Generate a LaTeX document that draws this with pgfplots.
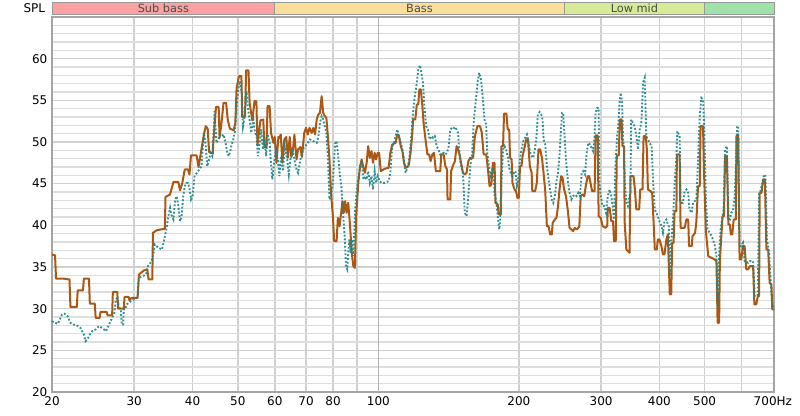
\documentclass[border=0pt]{standalone}
\usepackage{fontspec}
\setmainfont{DejaVu Sans}
\usepackage{pgfplots}
\pgfplotsset{compat=1.18}
\definecolor{brownline}{RGB}{172,88,18}
\definecolor{tealline}{RGB}{26,134,134}
\definecolor{subbass}{RGB}{250,162,162}
\definecolor{bass}{RGB}{250,222,156}
\definecolor{lowmid}{RGB}{214,234,152}
\definecolor{midc}{RGB}{158,226,168}
\definecolor{gridc}{RGB}{222,222,222}
\definecolor{vgrid}{RGB}{208,208,208}
\definecolor{framec}{RGB}{165,165,165}
\begin{document}
\begin{tikzpicture}
\begin{axis}[
  scale only axis, width=541.5pt, height=281.25pt,
  xmode=log, log basis x=10,
  xmin=20, xmax=704, ymin=20, ymax=65,
  xtick={20,30,40,50,60,70,80,90,100,200,300,400,500,600},
  xticklabels={20,30,40,50,60,70,80,,100,200,300,400,500,},
  extra x ticks={700}, extra x tick labels={700Hz},
  extra x tick style={grid=none},
  minor x tick num=0,
  ytick={20,25,...,60},
  minor ytick={21,22,...,65},
  xmajorgrids=true, ymajorgrids=true, yminorgrids=true,
  major grid style={vgrid, line width=1.2pt},
  minor grid style={gridc, line width=1.1pt},
  major tick length=0pt, minor tick length=0pt,
  axis line style={framec, line width=1.5pt},
  tick label style={font=\fontsize{9}{10}\selectfont},
  /pgf/number format/assume math mode=true,
  clip=false,
]
\path ([xshift=-39pt,yshift=-18pt]rel axis cs:0,0) rectangle ([xshift=19.5pt,yshift=12.75pt]rel axis cs:1,1);
\draw[black!30, line width=1.2pt] (axis cs:100,20) -- (axis cs:100,65);
% frequency bands
\fill[subbass] (axis cs:20,65.33) rectangle (axis cs:60,66.74);
\fill[bass] (axis cs:60,65.33) rectangle (axis cs:250,66.74);
\fill[lowmid] (axis cs:250,65.33) rectangle (axis cs:500,66.74);
\fill[midc] (axis cs:500,65.33) rectangle (axis cs:704,66.74);
\draw[black!40, line width=0.5pt] (axis cs:20,65.33) rectangle (axis cs:704,66.74);
\draw[black!40, line width=0.5pt] (axis cs:60,65.33) -- (axis cs:60,66.74);
\draw[black!40, line width=0.5pt] (axis cs:250,65.33) -- (axis cs:250,66.74);
\draw[black!40, line width=0.5pt] (axis cs:500,65.33) -- (axis cs:500,66.74);
\node[font=\fontsize{8.5}{10}\selectfont, text=black!70, inner sep=0pt] at (axis cs:34.64,66.03) {Sub bass};
\node[font=\fontsize{8.5}{10}\selectfont, text=black!70, inner sep=0pt] at (axis cs:122.5,66.03) {Bass};
\node[font=\fontsize{8.5}{10}\selectfont, text=black!70, inner sep=0pt] at (axis cs:353.6,66.03) {Low mid};
\node[font=\fontsize{9}{10}\selectfont, anchor=east, inner sep=0pt] at ([xshift=-5pt]axis cs:20,66.03) {SPL};

\addplot[brownline, line width=1.5pt, line join=round, mark=none] coordinates {
(20,36.5)(20.3,36.4)(20.4,33.6)(21.2,33.6)(21.8,33.5)(21.9,30.2)(22.6,30.2)(22.7,32.2)(23.3,32.2)(23.4,33.6)(24.0,33.6)(24.1,30.6)(24.7,30.6)(24.8,28.9)(25.3,28.9)(25.4,29.6)(26.2,29.6)(26.3,29.2)(26.9,29.2)(27.0,32.0)(27.6,32.0)(27.7,30.0)(28.5,30.0)(28.6,31.4)(29.2,31.4)(29.3,31.0)(29.6,31.3)(30.5,31.3)(30.7,34.1)(31.5,34.6)(32.0,34.7)(32.2,33.5)(32.8,33.5)(32.9,39.1)(33.5,39.4)(34.2,39.5)(34.9,39.6)(35.0,43.4)(35.8,43.7)(36.4,45.2)(37.3,45.2)(37.6,44.2)(38.0,45.0)(38.5,46.7)(39.1,46.7)(39.4,46.1)(39.7,48.4)(40.8,48.4)(41.2,47.0)(42.3,50.9)(42.7,51.9)(43.1,51.6)(43.4,48.8)(44.2,48.6)(44.3,49.8)(44.9,54.2)(45.5,54.2)(45.7,50.5)(46.2,52.6)(46.6,54.7)(47.2,54.7)(47.6,52.6)(48.1,51.6)(49.0,51.4)(49.4,52.3)(49.7,56.5)(50.3,57.9)(50.9,57.9)(51.1,53.0)(51.8,53.0)(52.1,58.6)(52.7,58.6)(53.0,54.7)(53.7,52.6)(54.3,54.9)(54.8,54.9)(55.1,49.6)(55.9,52.6)(56.7,52.7)(57.0,49.4)(57.6,49.4)(57.9,54.3)(58.5,54.3)(58.9,51.1)(59.6,49.9)(60.0,50.6)(60.5,47.5)(61.1,50.6)(61.4,50.5)(61.8,50.9)(62.3,47.5)(62.9,50.3)(63.5,50.6)(64.0,48.1)(64.6,50.6)(65.1,48.2)(65.7,49.3)(66.1,50.9)(66.8,47.9)(67.3,49.1)(68.1,49.4)(68.6,48.2)(69.4,51.1)(70.0,51.7)(70.6,50.9)(71.2,51.7)(72.0,51.1)(72.6,51.7)(73.2,50.9)(73.8,52.7)(74.4,53.3)(75.0,53.5)(75.6,55.5)(76.2,53.5)(76.8,53.1)(77.4,52.9)(78.0,50.6)(78.6,47.9)(79.2,43.9)(80.0,40.7)(80.4,38.1)(81.4,38.1)(81.9,40.9)(82.6,39.9)(83.8,42.9)(84.3,41.5)(84.9,42.9)(85.5,41.5)(86.2,42.7)(87.0,39.9)(87.7,36.7)(88.4,35.1)(89.1,34.9)(89.6,40.9)(90.6,45.1)(91.4,47.1)(92.1,47.9)(92.9,46.9)(93.6,46.3)(94.4,47.5)(95.1,49.5)(95.9,48.1)(96.7,48.9)(97.4,47.5)(98.2,48.7)(98.9,47.9)(99.7,48.7)(100.4,48.7)(101.2,46.5)(103.3,46.8)(105.2,46.9)(106.1,48.7)(107.1,49.7)(108.9,49.9)(109.8,50.9)(110.7,50.7)(111.7,49.5)(112.6,48.9)(113.5,47.5)(114.4,46.9)(115.4,47.0)(116.3,47.3)(117.2,48.7)(118.2,50.9)(118.7,52.7)(120.0,52.7)(120.9,54.5)(121.8,54.5)(122.4,56.3)(123.3,56.3)(124.1,54.7)(125.0,52.3)(126.2,50.3)(127.4,48.5)(128.5,48.5)(129.4,47.7)(130.5,48.5)(131.6,48.7)(132.8,46.5)(135.7,46.5)(136.4,48.5)(138.0,48.5)(139.2,47.1)(140.3,46.7)(140.7,43.1)(142.6,43.1)(143.2,46.5)(144.8,47.3)(145.9,47.7)(147.1,49.5)(148.2,49.1)(149.3,48.5)(150.4,47.5)(151.8,46.3)(153.2,46.1)(154.5,46.3)(155.9,47.7)(157.3,48.1)(159.6,48.1)(161.0,50.7)(163.0,51.9)(165.2,51.9)(166.6,51.1)(168.1,48.5)(170.3,48.5)(171.7,46.7)(173.1,44.7)(174.6,44.9)(176.0,47.5)(177.4,47.5)(178.2,42.7)(180.2,42.5)(181.1,41.3)(183.0,41.3)(183.6,49.5)(185.0,49.5)(185.9,53.4)(188.1,53.4)(189.3,51.5)(190.7,51.5)(191.5,48.1)(193.0,47.9)(193.8,45.1)(195.8,44.3)(197.2,44.1)(198.6,43.3)(200.0,43.3)(201.1,47.1)(202.6,47.1)(203.7,48.3)(205.6,49.3)(207.4,50.3)(209.2,50.3)(211.1,47.1)(213.0,46.3)(213.7,44.1)(216.7,44.1)(218.5,45.1)(220.3,49.1)(222.2,49.1)(224.1,48.1)(225.9,46.3)(227.8,44.1)(229.6,39.9)(231.5,39.9)(233.3,38.9)(235.2,38.9)(236.3,40.3)(238.9,40.7)(240.7,40.9)(242.6,42.3)(244.4,44.3)(246.3,45.9)(248.1,45.7)(250.0,44.3)(252.3,43.5)(254.5,41.9)(256.8,39.7)(259.1,39.5)(261.3,39.3)(263.6,39.7)(265.9,39.5)(268.1,39.7)(269.5,39.9)(271.3,43.5)(273.5,43.7)(276.2,43.5)(278.5,44.9)(280.8,45.9)(282.9,45.9)(285.2,44.9)(287.0,44.1)(290.6,44.1)(292.0,50.8)(295.1,50.8)(296.4,41.1)(299.6,40.9)(302.1,39.9)(306.5,39.7)(309.2,39.9)(310.1,42.1)(312.9,42.1)(315.6,40.5)(318.2,40.5)(319.8,38.1)(322.5,38.1)(324.2,48.4)(327.4,48.4)(329.0,52.7)(331.8,52.7)(333.4,49.5)(336.0,49.5)(337.1,40.3)(339.8,37.1)(342.4,36.9)(345.2,36.7)(346.8,45.9)(352,45.9)(354,44.7)(357,41.9)(362,41.9)(364,44.3)(368,44.3)(370,50.7)(374,50.7)(376,49.1)(378,44.3)(383,44.1)(386,43.9)(389,40.1)(391,37.1)(395,37.1)(397,38.3)(400,38.3)(404,37.5)(407,36.5)(410,36.5)(414,38.3)(417,38.9)(421,31.7)(424,31.7)(426,37.9)(429,37.9)(431,41.7)(435,41.7)(436,48.5)(442,48.5)(444,39.7)(453,39.7)(457,40.7)(461,40.7)(463,37.5)(469,37.5)(471,38.7)(474,38.9)(477,39.1)(480,40.5)(484,44.7)(488,44.7)(490,51.9)(496,51.9)(498,47.1)(503,39.3)(509,36.3)(517,36.1)(526,35.9)(530,35.7)(533,28.3)(537,28.3)(539,35.9)(543,38.7)(546,41.1)(550,41.1)(553,48.3)(558,48.3)(562,40.1)(566,40.1)(569,38.9)(573,38.9)(577,40.7)(583,40.7)(585,50.7)(590,50.9)(594,35.9)(599,35.9)(604,37.5)(609,37.5)(614,34.7)(619,34.7)(625,35.1)(635,35.1)(639,30.5)(645,30.5)(650,31.5)(654,31.5)(656,43.9)(662,43.9)(667,45.5)(673,45.5)(678,37.1)(684,37.1)(689,33.1)(695,32.9)(698,29.9)(703,29.9)
};

\addplot[tealline, opacity=0.9, line width=1.4pt, dash pattern=on 1.4pt off 1.4pt, mark=none] coordinates {
(20,28.5)(20.3,28.3)(20.6,28.2)(21.0,29.3)(21.3,29.4)(21.6,29.1)(21.9,28.3)(22.2,28.1)(22.6,28.0)(23.0,27.7)(23.4,26.9)(23.6,26.1)(23.8,26.3)(24.1,26.9)(24.4,27.3)(24.8,27.5)(25.2,27.9)(25.6,27.7)(26.1,27.3)(26.4,27.9)(26.7,28.5)(26.9,28.9)(27.2,29.5)(27.4,31.1)(27.6,31.3)(27.8,30.3)(28.1,29.7)(28.2,28.1)(28.4,28.1)(28.5,29.9)(28.7,29.9)(28.9,30.5)(29.2,30.7)(29.5,30.9)(29.9,31.1)(30.5,31.3)(30.7,33.7)(31.3,33.9)(31.8,34.1)(32.1,35.1)(32.7,35.7)(33.0,36.7)(33.2,37.7)(33.8,37.3)(34.4,37.1)(34.9,38.7)(35.2,39.7)(35.5,41.1)(35.8,42.1)(36.0,41.3)(36.4,40.7)(36.7,43.1)(37.0,43.5)(37.3,42.3)(37.6,40.5)(37.9,41.1)(38.2,43.5)(38.5,44.7)(38.8,45.1)(39.1,45.1)(39.4,44.5)(39.7,43.1)(40.0,43.5)(40.4,45.9)(41.1,46.5)(41.8,47.1)(42.3,51.1)(42.7,49.5)(43.0,47.1)(43.4,47.9)(43.7,48.7)(44.1,48.3)(44.6,53.7)(45.0,49.9)(45.4,50.3)(45.8,50.9)(46.2,50.7)(46.6,50.9)(47.0,50.1)(47.4,48.9)(47.8,48.3)(48.2,48.9)(48.5,49.7)(48.9,50.3)(49.3,51.3)(49.7,54.3)(50.1,56.3)(50.5,57.3)(51.0,55.9)(51.3,51.9)(51.6,52.7)(52.2,56.1)(52.5,54.3)(53.1,52.3)(53.4,51.1)(54.0,52.7)(54.3,51.5)(54.9,50.5)(55.2,48.3)(55.7,49.9)(56.1,51.5)(56.6,49.1)(57.0,50.3)(57.5,48.3)(57.9,50.9)(58.5,49.9)(58.8,47.9)(59.3,45.5)(59.7,47.1)(60.3,49.1)(60.9,47.9)(61.4,45.9)(61.9,48.3)(62.5,46.5)(63.0,49.5)(63.8,47.9)(64.3,46.1)(64.8,47.9)(65.6,48.9)(66.1,47.9)(66.8,46.7)(67.3,46.3)(68.1,47.9)(69.2,49.3)(70.2,49.7)(71.4,50.3)(72.6,50.1)(73.8,49.9)(74.4,50.6)(75.0,52.3)(75.6,53.1)(76.2,52.7)(76.8,51.9)(77.4,51.1)(78.0,47.9)(78.6,43.1)(79.2,43.5)(79.8,44.7)(80.4,47.9)(80.9,49.9)(81.4,50.1)(81.9,48.7)(82.6,46.4)(83.3,44.7)(84.0,41.5)(84.8,38.3)(85.2,35.1)(85.8,34.7)(86.2,36.7)(86.7,38.3)(87.3,36.7)(87.8,38.3)(88.4,36.3)(89.1,41.5)(89.9,44.3)(90.6,45.5)(91.4,47.1)(92.1,47.7)(92.9,45.5)(93.6,45.9)(94.4,45.5)(95.1,46.5)(95.9,45.1)(96.7,45.9)(97.4,44.3)(98.2,46.5)(98.9,45.1)(99.7,45.9)(100.6,45.3)(101.5,45.1)(103.3,45.1)(105.2,45.3)(106.1,46.3)(107.1,49.5)(108.0,49.9)(108.9,50.7)(109.8,51.5)(110.7,50.7)(111.7,49.9)(112.6,49.1)(113.5,47.9)(114.4,46.3)(115.4,46.9)(116.3,47.7)(117.2,49.5)(118.2,52.3)(119.1,54.5)(120.0,55.9)(120.9,57.1)(121.8,58.7)(122.8,59.2)(123.7,58.3)(124.6,57.1)(125.5,54.3)(126.6,51.9)(127.7,51.5)(128.8,50.3)(129.9,50.7)(131.0,50.5)(132.1,50.7)(133.3,49.5)(134.5,49.1)(135.7,48.5)(136.8,48.5)(138.0,48.7)(139.2,48.5)(140.3,48.7)(141.5,49.5)(142.6,51.5)(143.7,51.7)(144.8,51.6)(145.9,51.8)(147.1,51.5)(148.2,51.1)(149.3,48.3)(150.4,47.1)(151.8,46.3)(153.2,41.5)(154.5,41.1)(155.9,43.5)(157.3,47.1)(158.8,48.5)(160.2,52.7)(161.7,54.9)(163.1,57.1)(164.4,58.3)(165.9,57.5)(167.3,55.5)(168.8,52.7)(170.2,52.1)(171.1,48.7)(172.6,47.1)(173.7,45.9)(175.4,46.7)(176.6,46.3)(177.4,43.5)(178.8,43.1)(180.2,41.1)(181.6,39.5)(182.4,40.7)(183.8,45.9)(185.0,49.1)(186.4,49.5)(187.8,49.1)(189.3,48.3)(190.7,46.9)(192.1,46.3)(193.8,45.9)(195.3,46.3)(196.7,46.5)(198.1,44.7)(199.5,45.5)(201.1,47.9)(202.6,49.1)(204.4,50.1)(206.3,50.5)(208.1,50.9)(209.2,50.3)(211.1,48.9)(213.0,48.3)(214.8,48.1)(216.7,49.3)(218.5,51.1)(219.6,53.3)(221.5,53.6)(223.3,53.3)(224.8,52.7)(225.9,50.3)(227.8,49.7)(229.6,47.1)(231.5,45.5)(233.3,44.3)(235.2,43.1)(237.0,42.7)(238.9,43.5)(240.7,45.3)(242.6,46.3)(244.4,48.5)(246.3,51.7)(247.4,53.5)(248.9,53.5)(250.0,51.5)(252.3,47.9)(254.5,45.5)(256.8,43.9)(259.1,43.1)(261.3,43.5)(263.6,43.7)(265.9,43.5)(268.1,43.9)(270.4,43.5)(272.6,46.3)(274.9,46.5)(277.2,46.1)(279.4,48.7)(281.7,49.9)(283.9,49.7)(286.2,49.3)(288.5,48.9)(290.6,50.7)(292.0,53.5)(294.2,54.1)(296.4,54.1)(297.8,44.7)(299.6,43.5)(302.1,42.3)(304.8,42.3)(307.5,41.5)(310.1,43.5)(312.9,44.3)(315.6,43.5)(318.2,41.9)(319.8,40.7)(322.0,47.1)(324.7,50.7)(326.3,51.7)(329.0,55.1)(330.6,55.9)(332.8,54.7)(334.4,50.3)(336.0,49.1)(337.1,45.5)(339.8,42.7)(342.4,42.3)(345.2,43.5)(346.8,43.9)(348,52.7)(351,52.3)(354,51.9)(357,50.7)(360,49.1)(363,51.5)(366,52.3)(369,57.1)(372,57.7)(375,50.7)(378,50.3)(381,49.9)(385,49.5)(388,45.1)(391,41.9)(394,41.5)(397,41.1)(400,40.5)(404,39.9)(407,39.1)(410,40.5)(414,40.7)(417,40.1)(419,39.9)(421,33.9)(424,37.9)(428,41.1)(431,44.7)(435,48.3)(437,51.3)(442,50.7)(444,42.7)(449,42.7)(453,44.1)(457,44.3)(461,43.9)(464,41.9)(469,41.5)(472,42.7)(476,42.9)(480,43.1)(484,47.9)(488,53.1)(492,55.3)(496,55.1)(499,51.9)(503,43.1)(507,39.5)(513,39.1)(517,38.7)(521,38.3)(526,37.5)(530,36.3)(533,30.3)(537,36.7)(541,39.5)(546,41.1)(549,41.9)(553,49.1)(558,49.5)(562,41.1)(566,40.5)(570,41.5)(575,41.7)(580,43.5)(583,47.1)(587,51.9)(590,51.9)(594,37.5)(599,37.5)(604,37.9)(609,35.7)(614,35.7)(619,35.5)(625,35.7)(635,35.7)(640,31.5)(645,31.5)(650,31.7)(654,43.9)(658,44.1)(665,45.1)(670,46.1)(675,45.9)(680,38.3)(687,36.7)(692,33.5)(697,30.7)(703,29.9)
};
\end{axis}
\end{tikzpicture}
\end{document}
